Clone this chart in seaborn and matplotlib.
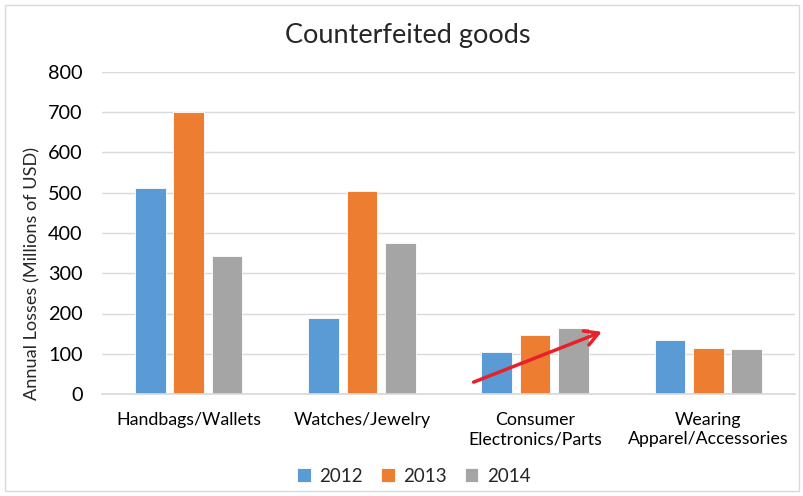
import matplotlib
matplotlib.use("Agg")
import matplotlib.pyplot as plt
import seaborn as sns
import pandas as pd
from matplotlib.patches import Rectangle

categories = ["Handbags/Wallets", "Watches/Jewelry", "Consumer\nElectronics/Parts", "Wearing\nApparel/Accessories"]
years = ["2012", "2013", "2014"]
v2012 = [512, 188, 104, 134]
v2013 = [700, 505, 146, 115]
v2014 = [342, 376, 163, 113]
colors = ["#5B9BD5", "#ED7D31", "#A5A5A5"]

rows = []
for yr, vals in zip(years, [v2012, v2013, v2014]):
    for c, v in zip(categories, vals):
        rows.append({"Category": c, "Year": yr, "Value": v})
df = pd.DataFrame(rows)

sns.set_theme(style="white")
plt.rcParams['font.family'] = ['Lato', 'DejaVu Sans']

fig = plt.figure(figsize=(8.04, 4.96), dpi=100)
ax = fig.add_axes([102/804, 1-394/496, (795-102)/804, (394-72)/496])

sns.barplot(data=df, x="Category", y="Value", hue="Year", palette=colors,
            width=0.665, gap=0.2, ax=ax, saturation=1, edgecolor="white", linewidth=0.6)

ax.set_ylim(0, 800)
ax.set_yticks(range(0, 801, 100))
ax.yaxis.grid(True, color="#D9D9D9", linewidth=1)
ax.set_axisbelow(True)
for s in ["top", "right", "left"]:
    ax.spines[s].set_visible(False)
ax.spines["bottom"].set_color("#D9D9D9")
ax.tick_params(axis="y", labelsize=14.3, length=0, pad=14, colors="#000000")
ax.tick_params(axis="x", labelsize=12.8, length=0, pad=13, colors="#000000")
for lbl in ax.get_xticklabels():
    lbl.set_linespacing(1.25)
ax.set_xlabel("")
ax.set_ylabel("")
ax.set_xlim(-0.5, 3.5)

fig.text(32/804, 1-273/496, "Annual Losses (Millions of USD)", rotation=90,
         ha="center", va="center", fontsize=13.1)

fig.text(408/804, 1-35/496, "Counterfeited goods", ha="center", va="center", fontsize=19.5)

ax.legend(loc="center", bbox_to_anchor=(414/804, 1-476/496), bbox_transform=fig.transFigure,
          ncol=3, frameon=False, fontsize=13.5, handlelength=0.7, handleheight=0.7,
          handletextpad=0.45, columnspacing=1.0)

ax.annotate("", xy=(2.40, 157), xytext=(1.63, 27),
            arrowprops=dict(arrowstyle="->,head_length=0.8,head_width=0.45", color="#E8202A", lw=2.5))

fig.patches.append(Rectangle((5/804, 5/496), 1-10/804, 1-10/496, transform=fig.transFigure,
                             fill=False, edgecolor="#D9D9D9", linewidth=1))

fig.savefig("out.png", dpi=100)
